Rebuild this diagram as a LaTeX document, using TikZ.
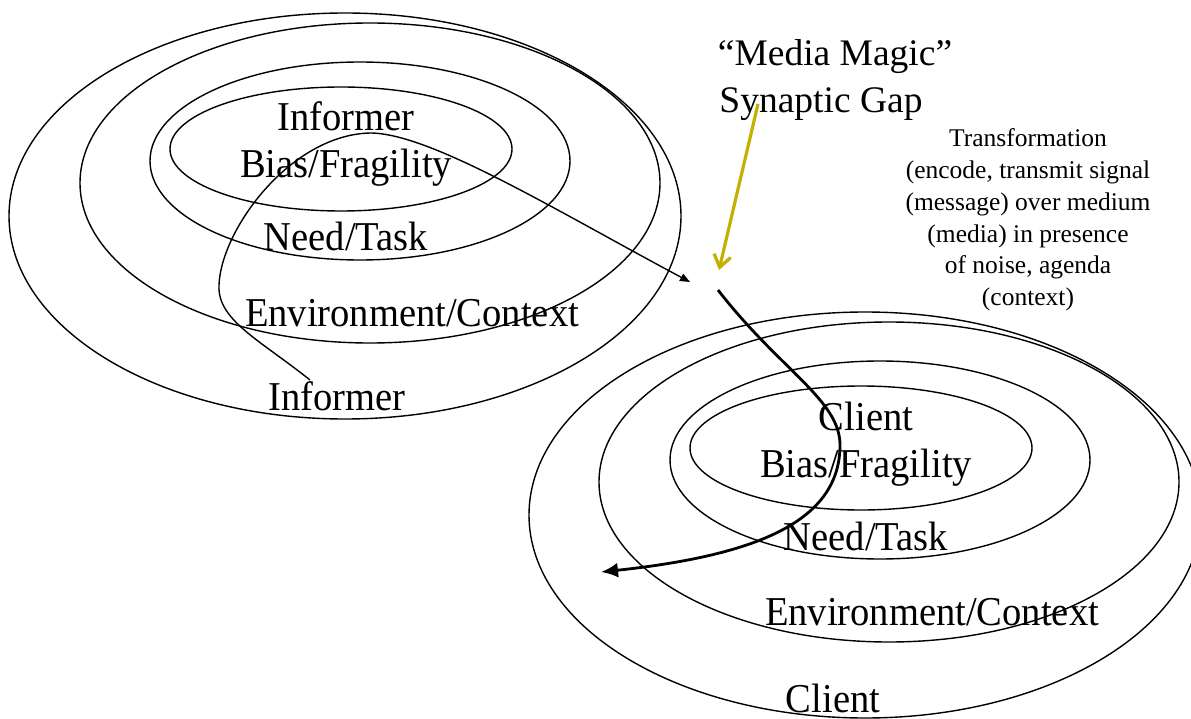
\documentclass[tikz,border=0pt]{standalone}
\usepackage{fontspec}
\setmainfont{Liberation Serif}
\newfontfamily\lblfont{Liberation Serif}[FakeStretch=0.94]
\usetikzlibrary{arrows.meta}
\definecolor{gapyellow}{RGB}{196,176,0}
\begin{document}
\begin{tikzpicture}[x=1pt,y=-1pt,
  ring/.style={draw=black,line width=1.4pt},
  biglbl/.style={anchor=base,inner sep=0pt,font=\lblfont\fontsize{41}{47}\selectfont},
  titlelbl/.style={anchor=base,inner sep=0pt,font=\fontsize{37.5}{47}\selectfont},
  smalllbl/.style={align=center,inner sep=0pt,font=\fontsize{25.5}{31.8}\selectfont},
  thinflow/.style={line width=1.4pt,-{Triangle[length=10pt,width=8pt]}},
  thickflow/.style={line width=2.8pt,-{Latex[length=17pt,width=15pt]}},
  gaparrow/.style={draw=gapyellow,line width=3.2pt,-{Straight Barb[length=12pt,width=17pt]}}]
\useasboundingbox (0,0) rectangle (1191,719);
% informer rings
\draw[ring] (345,216) ellipse [x radius=336, y radius=203];
\draw[ring] (370,183) ellipse [x radius=290, y radius=160];
\draw[ring] (360,161) ellipse [x radius=210, y radius=99];
\draw[ring] (341,149) ellipse [x radius=171, y radius=62];
% client rings
\draw[ring] (865,515) ellipse [x radius=336, y radius=203];
\draw[ring] (889,482) ellipse [x radius=290, y radius=160];
\draw[ring] (880,460) ellipse [x radius=210, y radius=99];
\draw[ring] (861,448) ellipse [x radius=171, y radius=62];
% labels informer
\node[biglbl] (iname) at (346,131) {Informer};
\node[biglbl] (ibias) at (346,178) {Bias/Fragility};
\node[biglbl] (ineed) at (346,251) {Need/Task};
\node[biglbl] (ienv) at (412,326) {Environment/Context};
\node[biglbl] (iouter) at (337,410) {Informer};
% labels client
\node[biglbl] (cname) at (866,430) {Client};
\node[biglbl] (cbias) at (866,477) {Bias/Fragility};
\node[biglbl] (cneed) at (866,550) {Need/Task};
\node[biglbl] (cenv) at (932,625) {Environment/Context};
\node[biglbl] (couter) at (833,712) {Client};
% title
\node[titlelbl] (magic) at (835,66) {``Media Magic''};
\node[titlelbl] (gap) at (821,113) {Synaptic Gap};
% transformation text
\node[smalllbl] (trans) at (1028,220) {Transformation\\(encode, transmit signal\\(message) over medium\\(media) in presence\\of noise, agenda\\(context)};
% flows
\coordinate (istart) at (310,380);
\coordinate (iend) at (690,282);
\coordinate (cstart) at (718,290);
\coordinate (cend) at (601,572);
\coordinate (ystart) at (758,104);
\coordinate (yend) at (719,270);
\draw[thinflow] (istart) .. controls (260,340) and (217,320) .. (219,285)
  .. controls (221,230) and (290,135) .. (370,133)
  .. controls (430,133) and (555,210) .. (iend);
\draw[thickflow] (cstart) .. controls (780,370) and (840,400) .. (840,445)
  .. controls (840,520) and (760,555) .. (cend);
\draw[gaparrow] (ystart) -- (yend);
\end{tikzpicture}
\end{document}
